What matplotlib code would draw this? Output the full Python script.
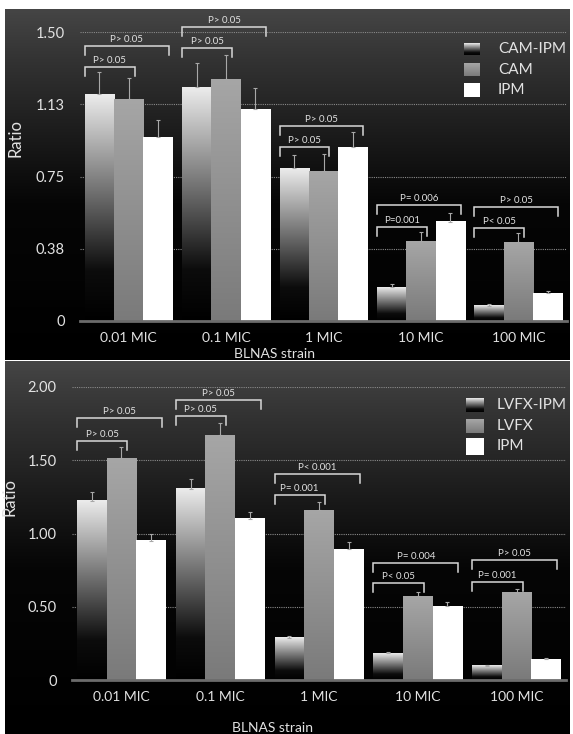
import numpy as np
import matplotlib
matplotlib.use('Agg')
import matplotlib.pyplot as plt
from matplotlib.colors import LinearSegmentedColormap

plt.rcParams['font.family'] = ['Lato', 'DejaVu Sans']

#%% data

groups = ['0.01 MIC', '0.1 MIC', '1 MIC', '10 MIC', '100 MIC']

# top panel: CAM
cam_ipm     = [1.178, 1.214, 0.794, 0.176, 0.078]
cam_ipm_err = [0.115, 0.125, 0.070, 0.015, 0.010]
cam         = [1.152, 1.256, 0.778, 0.415, 0.410]
cam_err     = [0.110, 0.125, 0.090, 0.045, 0.045]
ipm_a       = [0.955, 1.100, 0.903, 0.514, 0.145]
ipm_a_err   = [0.090, 0.110, 0.080, 0.045, 0.012]

# bottom panel: LVFX
lvfx_ipm     = [1.222, 1.304, 0.287, 0.184, 0.096]
lvfx_ipm_err = [0.060, 0.070, 0.010, 0.008, 0.005]
lvfx         = [1.515, 1.672, 1.160, 0.573, 0.594]
lvfx_err     = [0.075, 0.080, 0.055, 0.030, 0.025]
ipm_b        = [0.949, 1.099, 0.894, 0.505, 0.143]
ipm_b_err    = [0.050, 0.045, 0.045, 0.025, 0.006]

# p-values (inner bracket, outer bracket) per group
p_top    = [('P> 0.05', 'P> 0.05'), ('P> 0.05', 'P> 0.05'), ('P> 0.05', 'P> 0.05'),
            ('P=0.001', 'P= 0.006'), ('P< 0.05', 'P> 0.05')]
p_bottom = [('P> 0.05', 'P> 0.05'), ('P> 0.05', 'P> 0.05'), ('P= 0.001', 'P< 0.001'),
            ('P< 0.05', 'P= 0.004'), ('P= 0.001', 'P> 0.05')]

# bracket heights (inner, outer)
h_top    = [(1.318, 1.427), (1.417, 1.526), (0.903, 1.012), (0.488, 0.602), (0.483, 0.592)]
h_bottom = [(1.631, 1.788), (1.802, 1.911), (1.263, 1.406), (0.662, 0.799), (0.669, 0.819)]

#%% styles

txt_col = '#e2e2e2'
grad_dark = LinearSegmentedColormap.from_list('dk', [(0, '#000000'), (0.22, '#0c0c0c'), (1, '#ececec')])
grad_gray = LinearSegmentedColormap.from_list('gr', [(0, '#7a7a7a'), (1, '#a6a6a6')])
grad_white = LinearSegmentedColormap.from_list('wh', [(0, '#ffffff'), (1, '#ffffff')])
bg_cmap = LinearSegmentedColormap.from_list('bg', [(0, '#000000'), (0.45, '#060606'),
                                                   (0.85, '#323232'), (1, '#454545')])
ramp = np.linspace(0, 1, 256).reshape(-1, 1)

W, H = 573, 734
fig = plt.figure(figsize=(W / 100, H / 100), dpi=100, facecolor='white')


def panel_bg(rect):
    bg = fig.add_axes(rect, zorder=-5)
    bg.imshow(ramp[::-1], cmap=bg_cmap, aspect='auto', extent=[0, 1, 0, 1], vmin=0, vmax=1)
    bg.set_axis_off()


def gradient_bars(ax, bars, cmap):
    for p in bars:
        x0, w, h = p.get_x(), p.get_width(), p.get_height()
        ax.imshow(ramp, cmap=cmap, origin='lower', aspect='auto', extent=[x0, x0 + w, 0, h],
                  vmin=0, vmax=1, zorder=2)
        p.set_facecolor('none')


def bracket(ax, x0, x1, y, leg, label):
    ax.plot([x0, x0, x1, x1], [y - leg, y, y, y - leg], color='#d8d8d8', lw=1.1,
            clip_on=False, zorder=4, solid_joinstyle='miter')
    ax.annotate(label, ((x0 + x1) / 2, y), xytext=(0, 1.5), textcoords='offset points',
                ha='center', va='bottom', color=txt_col, fontsize=7, annotation_clip=False)


def legend_box(px, py, pw, ph, tx, cmap, label):
    # px, py = top-left corner in pixels
    lx = fig.add_axes([px / W, (H - py - ph) / H, pw / W, ph / H], zorder=5)
    lx.imshow(ramp, cmap=cmap, origin='lower', aspect='auto', extent=[0, 1, 0, 1], vmin=0, vmax=1)
    lx.set_axis_off()
    fig.text(tx / W, (H - py - ph / 2) / H, label, color=txt_col,
             fontsize=11, va='center', ha='left')


def draw_panel(ax, series, errs, ymax, yticks, yticklabels, pvals, heights, leg):
    x = np.arange(len(groups))
    cmaps = [grad_dark, grad_gray, grad_white]
    for i, (vals, err) in enumerate(zip(series, errs)):
        bars = ax.bar(x + (i - 1) * 0.3, vals, 0.3, zorder=2,
                      yerr=[np.zeros(len(err)), err],
                      error_kw=dict(ecolor='#a8a8a8', elinewidth=0.8, capsize=1.5,
                                    capthick=0.8, zorder=3))
        gradient_bars(ax, bars, cmaps[i])
    for g in range(len(groups)):
        bracket(ax, g - 0.45, g + 0.06, heights[g][0], leg, pvals[g][0])
        bracket(ax, g - 0.45, g + 0.41, heights[g][1], leg, pvals[g][1])

    ax.set_xlim(-0.5, 4.5)
    ax.set_ylim(0, ymax)
    ax.set_facecolor('none')
    ax.set_xticks(x)
    ax.set_xticklabels(groups, color=txt_col, fontsize=10)
    ax.set_yticks(yticks)
    ax.set_yticklabels(yticklabels, color=txt_col, fontsize=10.5)
    ax.tick_params(length=0)
    ax.tick_params(axis='x', pad=8)
    ax.tick_params(axis='y', pad=11)
    ax.grid(axis='y', color='#8a8a8a', lw=0.8, ls=(0, (1, 1)), zorder=0)
    ax.set_axisbelow(True)
    for s in ['top', 'right', 'left']:
        ax.spines[s].set_visible(False)
    ax.spines['bottom'].set_color('#6c6c6c')
    ax.spines['bottom'].set_linewidth(2)
    ax.spines['bottom'].set_zorder(5)
    ax.set_ylabel('Ratio', color=txt_col, fontsize=12)


#%% top panel (CAM)

panel_bg([5 / W, (H - 360) / H, 565 / W, 351 / H])
ax1 = fig.add_axes([80 / W, (H - 321) / H, 487 / W, 289 / H])
draw_panel(ax1, [cam_ipm, cam, ipm_a], [cam_ipm_err, cam_err, ipm_a_err], 1.5,
           [0, 0.375, 0.75, 1.125, 1.5], ['0', '0.38', '0.75', '1.13', '1.50'],
           p_top, h_top, 0.045)
ax1.yaxis.set_label_coords(-0.117, 0.633)
ax1.text(0.40, -0.114, 'BLNAS strain', transform=ax1.transAxes, ha='center', va='center',
         color=txt_col, fontsize=10)

legend_box(464, 43, 16, 12, 498, grad_dark, 'CAM-IPM')
legend_box(464, 63, 16, 13, 498, grad_gray, 'CAM')
legend_box(464, 83, 16, 14, 498, grad_white, 'IPM')

#%% bottom panel (LVFX)

panel_bg([5 / W, 0, 565 / W, 373 / H])
ax2 = fig.add_axes([72 / W, (H - 680) / H, 494 / W, 293 / H])
draw_panel(ax2, [lvfx_ipm, lvfx, ipm_b], [lvfx_ipm_err, lvfx_err, ipm_b_err], 2.0,
           [0, 0.5, 1.0, 1.5, 2.0], ['0', '0.50', '1.00', '1.50', '2.00'],
           p_bottom, h_bottom, 0.06)
ax2.yaxis.set_label_coords(-0.111, 0.625)
ax2.text(0.405, -0.165, 'BLNAS strain', transform=ax2.transAxes, ha='center', va='center',
         color=txt_col, fontsize=10)

legend_box(466, 398, 17, 14, 497, grad_dark, 'LVFX-IPM')
legend_box(466, 419, 17, 14, 497, grad_gray, 'LVFX')
legend_box(466, 438, 17, 17, 497, grad_white, 'IPM')

fig.savefig('out.png', dpi=100, facecolor='white')
